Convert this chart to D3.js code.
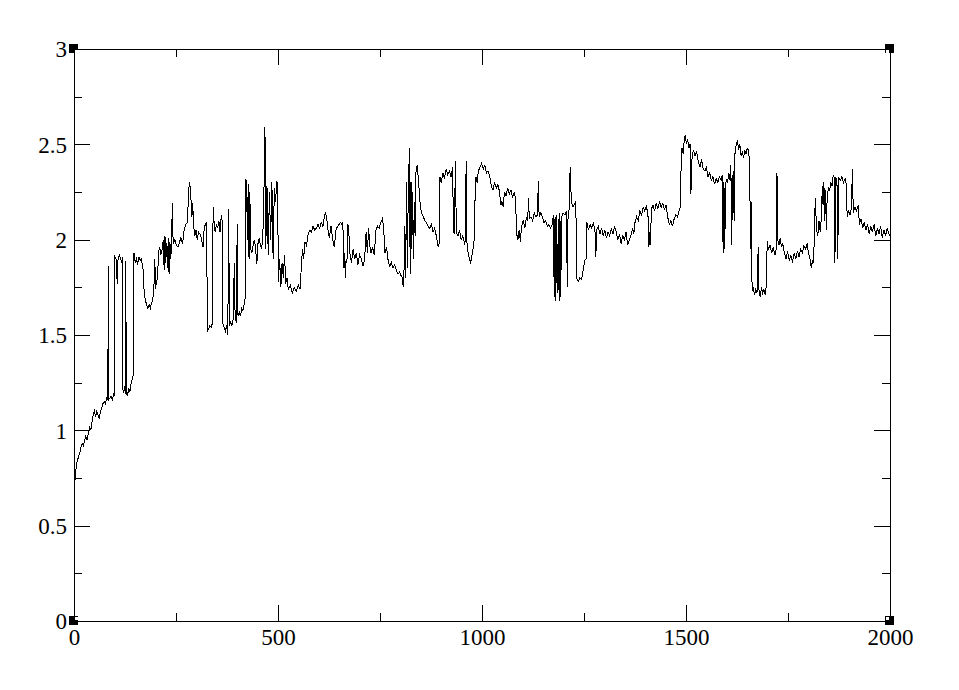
<!DOCTYPE html>
<html>
<head>
<meta charset="utf-8">
<script src="https://cdn.jsdelivr.net/npm/d3@7"></script>
<style>
  body { margin: 0; background: #fff; }
  svg { display: block; }
  .tick text { font-family: "Liberation Serif", "DejaVu Serif", serif; }
</style>
</head>
<body>
<div id="chart"></div>
<script>
// axis ticks
const xTicks = [0, 500, 1000, 1500, 2000];
const xMinor = [250, 750, 1250, 1750];
const yTicks = [0, 0.5, 1, 1.5, 2, 2.5, 3];
const yMinor = [0.25, 0.75, 1.25, 1.75, 2.25, 2.75];

// trace: [step, value]
const trace = [
  [0,0],[1,0.69],[3,0.76],[5,0.8],[8,0.84],[11,0.86],[14,0.88],[17,0.91],[20,0.93],[23,0.92],[26,0.95],[29,0.97],[32,0.95],[35,0.98],[38,1.02],[41,1.0],[44,1.04],[47,1.08],[50,1.1],[53,1.07],[56,1.1],[59,1.08],[62,1.06],[65,1.1],[68,1.12],[71,1.14],[74,1.15],[77,1.14],[80,1.17],[83,1.16],[84,1.86],[85,1.16],[88,1.17],[91,1.18],[94,1.16],[97,1.19],[99,1.18],
  [100,1.91],[103,1.9],[106,1.77],[108,1.9],[111,1.92],[114,1.9],[117,1.88],[119,1.91],[120,1.21],[122,1.2],[124,1.23],[126,1.19],[127,1.89],[128,1.2],[131,1.18],[134,1.22],[137,1.2],[140,1.25],[143,1.27],[146,1.3],
  [147,1.93],[150,1.88],[153,1.9],[156,1.87],[159,1.91],[162,1.89],[165,1.9],[168,1.86],[170,1.84],[172,1.72],[175,1.68],[178,1.66],[181,1.64],[184,1.66],[187,1.64],[190,1.67],[193,1.68],[196,1.76],[198,1.9],[200,1.74],[202,1.78],[205,1.8],[207,1.93],[210,1.96],[213,1.92],[216,1.95],[219,2.0],[221,1.84],[223,2.02],[225,1.88],[227,1.98],[229,1.85],[231,2.01],[233,1.82],[235,1.99],[237,1.9],[239,1.97],[241,2.19],[243,1.98],[247,2.0],[251,1.97],[255,1.96],[259,1.99],[262,2.01],[266,1.98],[270,2.05],[274,2.08],[278,2.09],[281,2.26],[283,2.3],[285,2.27],[287,2.2],[289,2.12],[291,2.19],[293,2.08],[296,2.02],[299,2.05],[302,2.0],[305,2.04],[309,2.03],[313,2.0],[315,1.97],[317,1.96],[319,2.06],[322,2.08],[325,2.09],
  [327,1.52],[330,1.53],[333,1.55],[336,1.54],[339,1.56],[341,2.17],[343,2.1],[346,2.04],[349,2.08],[352,2.06],[355,2.1],[358,2.04],[361,2.13],[363,2.1],[365,1.56],[368,1.54],[371,1.52],[374,1.55],[377,1.5],[379,2.16],[381,1.55],[384,1.57],[387,1.55],[390,1.58],[393,1.88],[395,1.58],[398,1.57],[400,2.08],[402,1.6],[405,1.62],[408,1.6],[411,1.64],[414,1.63],[417,1.66],[420,1.7],
  [421,2.32],[423,2.3],[425,2.0],[427,2.29],[429,1.9],[431,2.25],[433,1.95],[436,1.93],[439,1.97],[442,2.0],[445,1.96],[448,1.87],[451,1.98],[454,2.01],[457,1.97],[460,1.95],[463,2.03],[466,2.3],[468,2.59],[470,1.95],[473,2.28],[476,1.92],[479,2.25],[482,2.0],[485,2.3],[488,1.9],[491,2.27],[494,2.2],[497,2.31],[499,2.28],
  [501,1.78],[504,1.9],[507,1.75],[510,1.88],[513,1.8],[516,1.92],[519,1.77],[522,1.8],[525,1.74],[530,1.76],[535,1.72],[540,1.75],[545,1.73],[550,1.76],[554,1.74],[557,1.85],[560,1.95],[563,1.9],[566,1.99],[570,1.97],[574,2.03],[578,2.05],[582,2.04],[586,2.07],[590,2.05],[594,2.06],[598,2.08],[602,2.06],[606,2.09],[610,2.07],[613,2.11],[616,2.14],[619,2.12],[622,2.06],[626,2.01],[630,2.07],[634,2.0],[638,1.96],[642,2.05],[646,2.07],[650,2.08],[653,2.09],[657,2.08],[659,2.09],[661,1.85],[663,1.93],[665,1.8],[667,1.9],[669,1.88],[671,2.08],[673,2.07],
  [676,1.93],[680,1.88],[684,1.95],[688,1.9],[692,1.93],[696,1.87],[700,1.92],[704,1.9],[708,1.86],[712,1.89],[716,2.04],[719,1.93],[722,2.06],[725,1.97],[728,1.93],[732,1.96],[736,1.92],[740,2.05],[744,2.07],[748,2.06],[752,2.09],[756,2.11],[759,2.06],[762,1.93],[766,1.96],[770,1.89],[774,1.86],[778,1.88],[782,1.85],[786,1.87],[790,1.84],[794,1.82],[798,1.83],[802,1.81],[805,1.8],[807,1.75],[809,1.85],
  [811,2.07],[813,1.8],[815,2.3],[817,1.85],[819,2.2],[822,2.48],[824,1.82],[826,2.3],[828,1.95],[830,2.25],[832,1.9],[834,2.2],[836,2.02],[838,2.35],[841,2.39],[844,2.32],[846,2.26],[849,2.17],[852,2.14],[856,2.12],[860,2.1],[864,2.09],[868,2.07],[872,2.06],[876,2.08],[880,2.04],[884,2.06],[888,2.02],[891,1.98],[893,1.96],[895,1.98],
  [897,2.33],[900,2.3],[904,2.35],[908,2.32],[912,2.37],[916,2.34],[920,2.36],[924,2.33],[928,2.38],[930,2.05],[932,2.03],[935,2.41],[937,2.04],[941,2.02],[945,2.05],[949,2.0],[953,2.02],[957,1.98],[960,2.0],[961,2.41],[963,1.99],[966,1.93],[969,1.9],[972,1.88],[975,1.91],[978,1.95],[981,2.0],[983,2.22],[985,2.33],[988,2.3],[991,2.36],[995,2.38],[999,2.4],[1003,2.37],[1007,2.39],[1011,2.35],[1015,2.36],[1019,2.33],
  [1023,2.28],[1027,2.26],[1031,2.3],[1035,2.27],[1039,2.29],[1043,2.25],[1046,2.18],[1049,2.2],[1052,2.17],[1055,2.25],[1059,2.23],[1063,2.27],[1067,2.24],[1071,2.26],[1075,2.22],[1079,2.25],[1082,2.22],[1085,2.03],[1088,2.0],[1091,2.05],[1094,1.99],[1097,2.07],[1101,2.1],[1105,2.06],[1109,2.12],[1112,2.1],[1114,2.22],[1116,2.11],[1120,2.12],[1124,2.1],[1128,2.14],[1132,2.12],[1136,2.13],[1138,2.31],[1140,2.12],[1144,2.14],[1148,2.12],[1152,2.09],[1156,2.1],[1160,2.07],[1164,2.08],[1168,2.06],[1172,2.08],
  [1175,2.13],[1177,1.7],[1179,2.12],[1181,1.68],[1183,2.13],[1185,1.72],[1187,2.11],[1189,1.68],[1191,2.14],[1193,1.7],[1195,2.12],[1199,2.14],[1203,2.13],[1207,2.15],[1209,1.75],[1211,2.14],[1214,2.16],[1216,2.38],[1219,2.2],[1223,2.17],[1227,2.19],[1230,2.2],
  [1232,1.8],[1236,1.78],[1240,1.8],[1244,1.79],[1248,1.84],[1252,1.89],[1255,1.9],[1257,2.09],[1261,2.05],[1265,2.08],[1269,2.06],[1273,2.09],[1277,2.04],[1279,1.91],[1281,2.05],[1285,2.07],[1289,2.03],[1293,2.06],[1297,2.02],[1301,2.05],[1305,2.01],[1309,2.04],[1313,2.02],[1317,2.06],[1321,2.03],[1325,2.07],[1329,2.04],[1333,2.0],[1337,2.03],[1341,1.98],[1345,2.02],[1349,2.0],[1353,2.04],[1357,1.97],[1361,2.0],
  [1365,2.02],[1369,2.06],[1372,2.03],[1375,2.09],[1379,2.12],[1383,2.1],[1387,2.15],[1391,2.13],[1395,2.17],[1399,2.15],[1403,2.18],[1407,2.12],[1409,1.96],[1411,2.04],[1413,1.97],[1415,2.16],[1419,2.18],[1423,2.15],[1427,2.19],[1431,2.16],[1435,2.2],[1439,2.17],[1443,2.19],[1447,2.16],[1451,2.18],[1455,2.12],[1459,2.08],[1463,2.1],[1467,2.07],[1471,2.11],[1475,2.13],[1479,2.12],[1483,2.15],[1486,2.17],
  [1488,2.38],[1490,2.48],[1493,2.45],[1496,2.53],[1498,2.55],[1501,2.5],[1504,2.53],[1507,2.48],[1510,2.5],[1512,2.24],[1515,2.44],[1518,2.47],[1522,2.44],[1526,2.46],[1530,2.41],[1534,2.38],[1538,2.42],[1542,2.37],[1546,2.36],[1550,2.38],[1554,2.33],[1558,2.35],[1562,2.31],[1566,2.33],[1570,2.29],[1574,2.32],[1578,2.3],[1582,2.33],[1586,2.31],[1589,2.34],
  [1591,1.93],[1593,2.3],[1595,1.95],[1597,2.28],[1599,2.32],[1602,2.3],[1605,2.35],[1608,2.31],[1610,2.39],[1612,1.97],[1614,2.3],[1616,2.36],[1618,2.1],[1620,2.45],[1623,2.5],[1626,2.52],[1629,2.47],[1632,2.5],[1635,2.44],[1638,2.46],[1641,2.43],[1644,2.47],[1647,2.45],[1650,2.48],[1653,2.47],[1656,2.4],[1658,1.95],[1660,2.2],
  [1662,1.73],[1665,1.75],[1668,1.71],[1671,1.74],[1674,1.72],[1677,1.96],[1679,1.73],[1682,1.7],[1685,1.75],[1688,1.72],[1691,1.74],[1694,1.71],[1697,1.76],
  [1699,1.99],[1702,1.95],[1706,1.97],[1710,1.93],[1714,1.96],[1718,1.92],[1721,1.95],[1723,2.35],[1725,2.0],[1728,1.97],[1731,2.01],[1734,1.96],[1737,1.98],[1741,1.93],[1745,1.9],[1749,1.94],[1753,1.89],[1757,1.92],[1761,1.88],[1765,1.93],[1769,1.9],[1773,1.94],[1777,1.91],[1781,1.95],[1785,1.93],[1789,1.97],[1793,1.95],[1797,1.98],[1800,1.93],[1804,1.9],[1807,1.85],[1810,1.89],[1813,1.88],
  [1815,2.09],[1817,2.22],[1820,2.05],[1823,2.02],[1826,2.1],[1829,2.04],[1832,2.12],[1834,2.28],[1836,2.18],[1838,2.3],[1840,2.1],[1842,2.26],[1844,2.05],[1846,2.22],[1849,2.27],[1852,2.26],[1855,2.3],[1858,2.28],[1861,2.34],[1864,2.32],[1865,1.88],[1867,2.33],[1870,2.31],[1872,1.9],[1874,2.33],[1878,2.31],[1882,2.33],[1886,2.3],[1890,2.32],[1893,2.29],
  [1895,2.12],[1898,2.15],[1902,2.13],[1905,2.16],[1908,2.37],[1910,2.14],[1914,2.17],[1918,2.15],[1922,2.18],[1925,2.08],[1929,2.11],[1933,2.06],[1937,2.09],[1941,2.05],[1945,2.08],[1949,2.03],[1953,2.07],[1957,2.04],[1961,2.08],[1965,2.02],[1969,2.06],[1973,2.03],[1977,2.07],[1981,2.01],[1985,2.05],[1989,2.02],[1993,2.06],[1997,2.03],[2000,2.02]
];

const width = 959, height = 690;
const frame = { left: 74, right: 890, top: 49, bottom: 621 };

const svg = d3.select("#chart")
  .append("svg")
  .attr("width", width)
  .attr("height", height);

const x = d3.scaleLinear().domain([0, 2000]).range([frame.left, frame.right]);
const y = d3.scaleLinear().domain([0, 3]).range([frame.bottom, frame.top]);

// data line
const line = d3.line()
  .x(function(d) { return x(d[0]); })
  .y(function(d) { return y(d[1]); });

svg.append("path")
  .datum(trace)
  .attr("fill", "none")
  .attr("stroke", "#000")
  .attr("stroke-width", 1)
  .attr("shape-rendering", "crispEdges")
  .attr("d", line);

// ticks point inward on all four sides
function addAxis(axis, tx, ty) {
  const g = svg.append("g")
    .attr("transform", "translate(" + tx + "," + ty + ")")
    .call(axis);
  g.select(".domain").remove();
  g.selectAll(".tick line").attr("shape-rendering", "crispEdges");
  return g;
}

const major = 16, minor = 8;

const bottom = addAxis(d3.axisBottom(x).tickValues(xTicks).tickSize(-major).tickPadding(8)
  .tickFormat(d3.format("d")), 0, frame.bottom);
addAxis(d3.axisBottom(x).tickValues(xMinor).tickSize(-minor).tickFormat(""), 0, frame.bottom);
addAxis(d3.axisTop(x).tickValues(xTicks).tickSize(-major).tickFormat(""), 0, frame.top);
addAxis(d3.axisTop(x).tickValues(xMinor).tickSize(-minor).tickFormat(""), 0, frame.top);

const left = addAxis(d3.axisLeft(y).tickValues(yTicks).tickSize(-major).tickPadding(7)
  .tickFormat(function(d) { return String(d); }), frame.left, 0);
addAxis(d3.axisLeft(y).tickValues(yMinor).tickSize(-minor).tickFormat(""), frame.left, 0);
addAxis(d3.axisRight(y).tickValues(yTicks).tickSize(-major).tickFormat(""), frame.right, 0);
addAxis(d3.axisRight(y).tickValues(yMinor).tickSize(-minor).tickFormat(""), frame.right, 0);

bottom.selectAll(".tick text")
  .attr("font-size", 23)
  .attr("fill", "#000")
  .attr("dy", "0.71em");
left.selectAll(".tick text")
  .attr("font-size", 23)
  .attr("fill", "#000")
  .attr("dy", "0.34em");

// frame
svg.append("rect")
  .attr("x", frame.left)
  .attr("y", frame.top)
  .attr("width", frame.right - frame.left)
  .attr("height", frame.bottom - frame.top)
  .attr("fill", "none")
  .attr("stroke", "#000")
  .attr("stroke-width", 1)
  .attr("shape-rendering", "crispEdges");

// corner markers
const corners = [[0, 0], [0, 3], [2000, 0], [2000, 3]];
corners.forEach(function(c) {
  const cx = x(c[0]), cy = y(c[1]);
  const sx = c[0] === 0 ? 1 : -1, sy = c[1] === 0 ? -1 : 1;
  svg.append("rect")
    .attr("x", cx - 5).attr("y", cy - 5)
    .attr("width", 9).attr("height", 9)
    .attr("fill", "#000")
    .attr("shape-rendering", "crispEdges");
  svg.append("rect")
    .attr("x", sx > 0 ? cx + 1 : cx - 4)
    .attr("y", sy > 0 ? cy + 1 : cy - 4)
    .attr("width", 3).attr("height", 3)
    .attr("fill", "#fff")
    .attr("shape-rendering", "crispEdges");
});
</script>
</body>
</html>
